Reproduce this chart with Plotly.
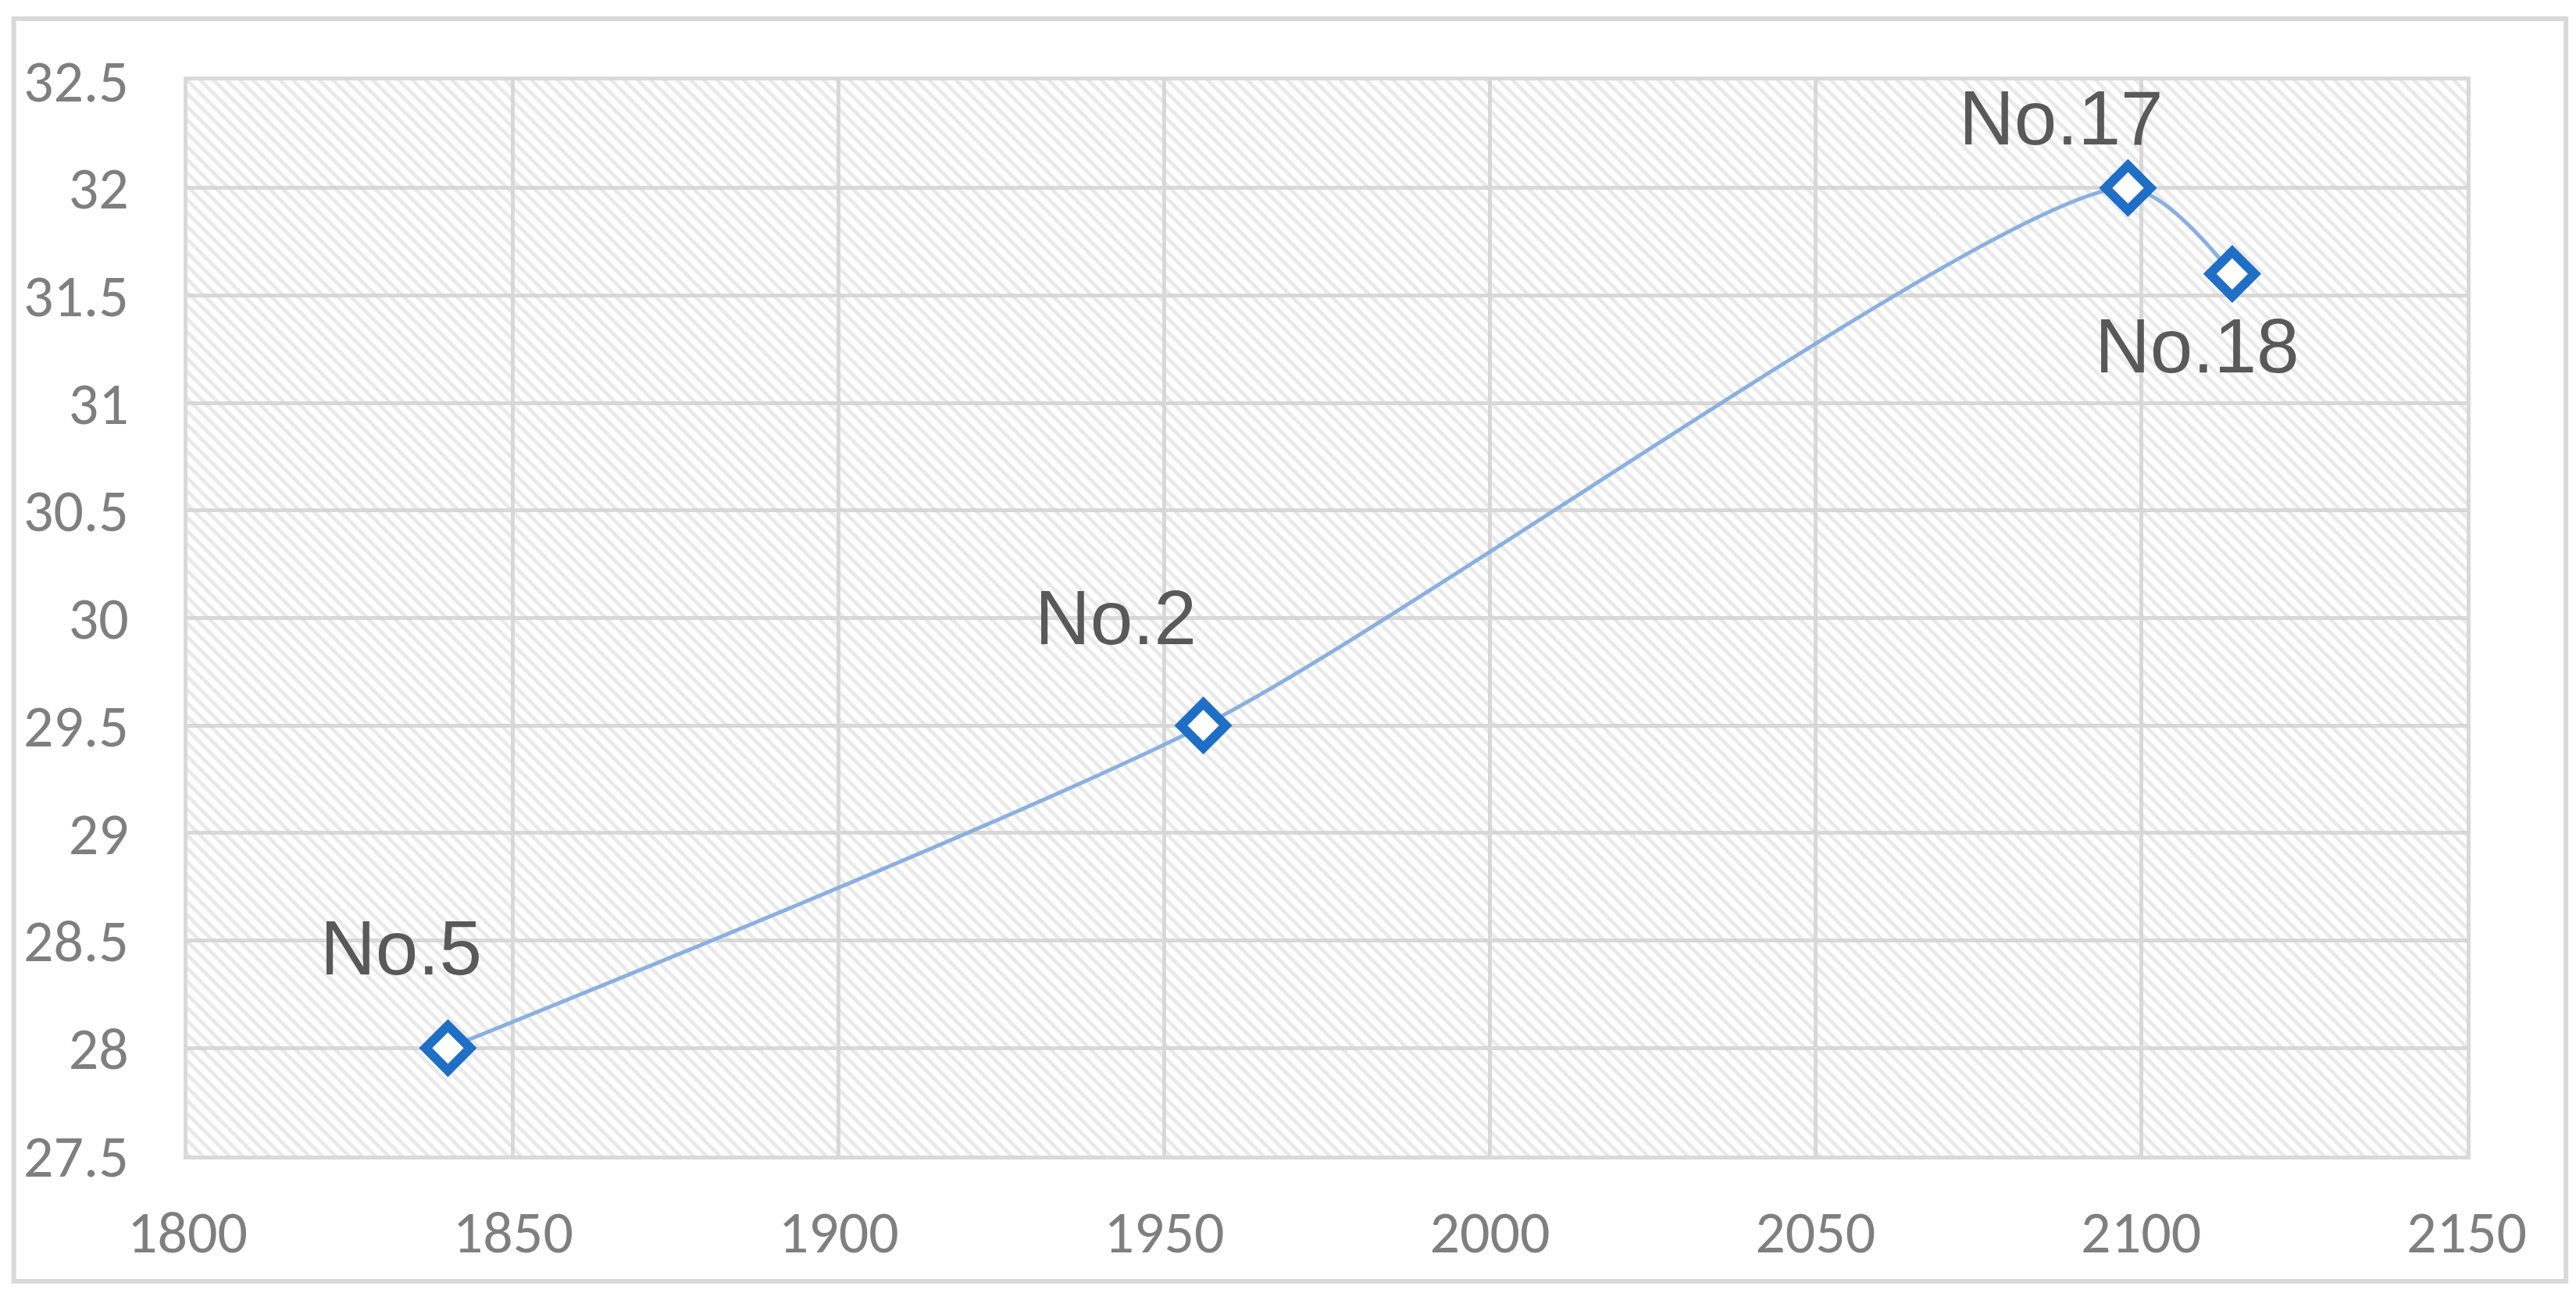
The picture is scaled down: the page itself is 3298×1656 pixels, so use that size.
import plotly.graph_objects as go


##############################################################
# Data
##############################################################

x_values = [1840, 1956, 2098, 2114]
y_values = [28.0, 29.5, 32.0, 31.6]
point_labels = ["No.5", "No.2", "No.17", "No.18"]

x_range = [1800, 2150]
y_range = [27.5, 32.5]

# label offsets in pixels (style, not data)
label_shift_x = [-60, -112, -85, -45]
label_shift_y = [128, 138, 90, -92]

blue = "#1F6FC6"
line_blue = "#8AB0DF"
grid_gray = "#D9D9D9"
tick_gray = "#7F7F7F"
label_gray = "#595959"


##############################################################
# Figure
##############################################################

fig = go.Figure()

# hatched plot-area background
fig.add_trace(
    go.Scatter(
        x=[x_range[0], x_range[1], x_range[1], x_range[0], x_range[0]],
        y=[y_range[0], y_range[0], y_range[1], y_range[1], y_range[0]],
        mode="none",
        fill="toself",
        fillcolor="rgba(0,0,0,0)",
        fillpattern=dict(
            shape="\\",
            fgcolor="#D3D3D3",
            bgcolor="rgba(255,255,255,0)",
            size=12,
            solidity=0.4
        ),
        hoverinfo="skip",
        showlegend=False
    )
)

fig.add_trace(
    go.Scatter(
        x=x_values,
        y=y_values,
        mode="lines+markers",
        line=dict(
            color=line_blue,
            width=5,
            shape="spline",
            smoothing=0.7
        ),
        marker=dict(
            symbol="diamond",
            size=44,
            color="white",
            line=dict(color=blue, width=12)
        ),
        showlegend=False
    )
)

for i in range(len(x_values)):

    fig.add_annotation(
        x=x_values[i],
        y=y_values[i],
        text=point_labels[i],
        showarrow=False,
        xshift=label_shift_x[i],
        yshift=label_shift_y[i],
        font=dict(
            family="Liberation Sans, Arial, sans-serif",
            size=98,
            color=label_gray
        )
    )

# outer frame
fig.add_shape(
    type="rect",
    xref="paper",
    yref="paper",
    x0=-0.0762,
    x1=1.0436,
    y0=-0.117,
    y1=1.0574,
    line=dict(color=grid_gray, width=6),
    fillcolor="rgba(0,0,0,0)",
    layer="below"
)

tick_font = dict(
    family="Carlito, Calibri, Lato, sans-serif",
    size=76,
    color=tick_gray
)

fig.update_layout(
    width=3298,
    height=1656,
    margin=dict(l=232, r=148, t=95, b=184),
    paper_bgcolor="white",
    plot_bgcolor="white",
    showlegend=False
)

fig.update_xaxes(
    range=x_range,
    dtick=50,
    tick0=1800,
    showgrid=True,
    gridcolor=grid_gray,
    gridwidth=5,
    zeroline=False,
    showline=True,
    linecolor=grid_gray,
    linewidth=5,
    mirror=True,
    ticks="",
    ticklabelstandoff=28,
    tickfont=tick_font,
    automargin=False
)

fig.update_yaxes(
    range=y_range,
    dtick=0.5,
    tick0=27.5,
    showgrid=True,
    gridcolor=grid_gray,
    gridwidth=5,
    zeroline=False,
    showline=True,
    linecolor=grid_gray,
    linewidth=5,
    mirror=True,
    ticks="",
    ticklabelstandoff=55,
    tickfont=tick_font,
    automargin=False
)

fig.write_html("out.html")
